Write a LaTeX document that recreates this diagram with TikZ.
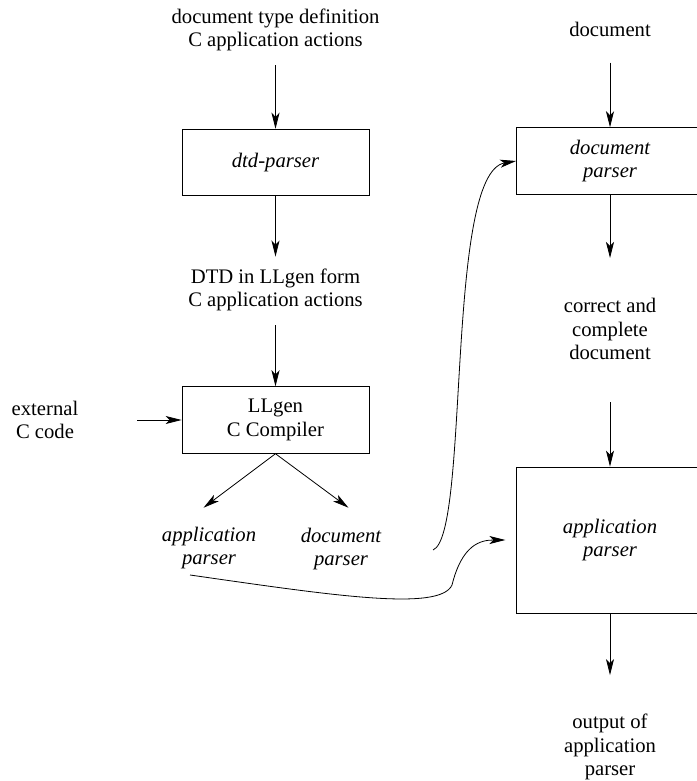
\documentclass[tikz,border=0pt]{standalone}
\usepackage{fontspec}
\setmainfont{Liberation Serif}
\usetikzlibrary{arrows.meta}
\begin{document}
\begin{tikzpicture}[x=0.75pt,y=0.75pt,yscale=-1,xscale=1,
  every node/.style={font=\fontsize{15.5}{17.6}\selectfont},
  box/.style={draw,line width=0.6pt,minimum width=140.25pt,minimum height=50pt,align=center,inner sep=0pt},
  lbl/.style={align=center,inner sep=0pt},
  flow/.style={line width=0.6pt,-{Stealth[length=12pt,width=6pt,inset=3pt]}}]
\useasboundingbox (0,0) rectangle (696,781);
% left column
\draw (275.5,30) node[lbl] (dtdin) {document type definition\\C application actions};
\draw (275.5,162.5) node[box] (dtd) {\itshape dtd-parser};
\draw (275.5,290) node[lbl] (llin) {DTD in LLgen form\\C application actions};
\draw (275.5,420) node[box] (llgen) {LLgen\\C Compiler};
\draw (45,420) node[lbl] (ext) {external\\C code};
\draw (209,548) node[lbl,font=\fontsize{15.5}{17.6}\selectfont\itshape] (applbl) {application\\parser};
\draw (341,549) node[lbl,font=\fontsize{15.5}{17.6}\selectfont\itshape] (doclbl) {document\\parser};
% right column
\draw (610,29) node[lbl] (docin) {document};
\draw (610,161) node[box] (docbox) {\itshape document\\\itshape parser};
\draw (610,329) node[lbl] (correct) {correct and\\complete\\document};
\draw (610,540) node[box,minimum height=109.5pt] (appbox) {\itshape application\\\itshape parser};
\draw (610,747) node[lbl] (output) {output of\\application\\parser};
% arrows
\draw[flow,shorten <=10.5pt] (dtdin) -- (dtd);
\draw[flow,shorten >=9pt] (dtd) -- (llin);
\draw[flow,shorten <=10.5pt] (llin) -- (llgen);
\draw[flow,shorten <=44pt] (ext) -- (llgen);
\draw[flow] (llgen.south) -- +(-72,54);
\draw[flow] (llgen.south) -- +(73,54);
\draw[flow,shorten <=19.5pt] (docin) -- (docbox);
\draw[flow,shorten >=30pt] (docbox) -- (correct);
\draw[flow,shorten <=31.5pt] (correct) -- (appbox);
\draw[flow,shorten >=29pt] (appbox) -- (output);
% curved connectors
\coordinate (docout) at (433,550);
\coordinate (appout) at (190,575);
\draw[flow] (docout) .. controls (470,535) and (445,173) .. (docbox.west);
\draw[flow,shorten >=8pt] (appout) .. controls (330,595) and (440,612) .. (452,585) .. controls (462,545) and (480,540) .. (appbox.west);
\end{tikzpicture}
\end{document}
